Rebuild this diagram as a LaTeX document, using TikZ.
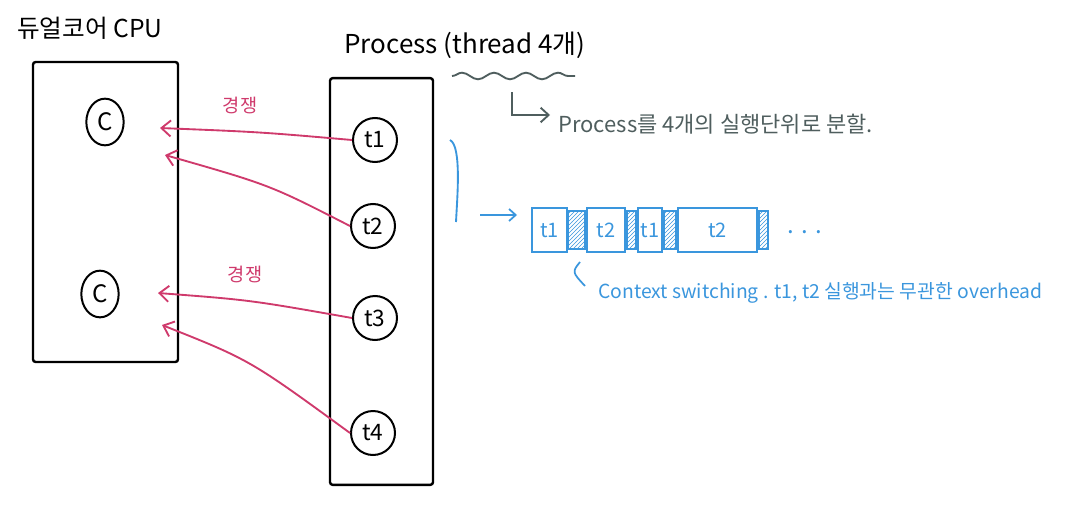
\documentclass[tikz,border=0pt]{standalone}
\usepackage{fontspec}
\setmainfont{Noto Sans CJK KR}
\usetikzlibrary{arrows.meta,patterns,decorations.pathmorphing,shapes.geometric}
\definecolor{hred}{HTML}{CF3A6C}
\definecolor{hblue}{HTML}{3A96DD}
\definecolor{hgray}{HTML}{4F5E5E}
\tikzset{
  frame/.style={draw=black, line width=1.8pt, rounded corners=2pt},
  thr/.style={draw=black, circle, line width=1.5pt, minimum size=33pt, inner sep=0pt, font=\fontsize{17}{17}\selectfont},
  core/.style={draw=black, ellipse, line width=1.5pt, minimum width=28pt, minimum height=35pt, inner sep=0pt, font=\fontsize{18}{18}\selectfont},
  rarrow/.style={draw=hred, line width=1.4pt, -{Straight Barb[length=7pt,width=12pt,line width=1.4pt]}},
  garrow/.style={draw=hgray, line width=1.4pt, -{Straight Barb[length=6pt,width=11pt,line width=1.4pt]}},
  barrow/.style={draw=hblue, line width=1.3pt, -{Straight Barb[length=5pt,width=9pt,line width=1.3pt]}},
  tbox/.style={draw=hblue, line width=1.4pt, minimum height=33pt, inner sep=0pt, text=hblue, font=\fontsize{15}{15}\selectfont},
  hbox/.style={draw=hblue, line width=1.4pt, minimum height=29pt, inner sep=0pt, pattern={north east lines}, pattern color=hblue},
  lbl/.style={inner sep=0pt, anchor=center}
}
\begin{document}
\begin{tikzpicture}[x=0.75pt,y=-0.75pt]
\useasboundingbox (0,0) rectangle (1066,510);
% titles
\node[lbl, font=\fontsize{18.5}{18.5}\selectfont] (cputitle) at (90,28) {듀얼코어 CPU};
\node[lbl, font=\fontsize{19.5}{19.5}\selectfont] (ptitle) at (465,45) {Process (thread 4개)};
% frames
\node[frame, minimum width=108.75pt, minimum height=225pt] (cpu) at (105.5,212) {};
\node[frame, minimum width=77.25pt, minimum height=305pt] (proc) at (381.5,281.5) {};
% cores
\node[core] (c1) at (105,122) {C};
\node[core] (c2) at (100,294) {C};
% threads
\node[thr] (t1) at (375,140) {t1};
\node[thr] (t2) at (373,226) {t2};
\node[thr] (t3) at (375,318) {t3};
\node[thr] (t4) at (373,433) {t4};
% red competition arrows
\coordinate (e1) at (160,128);
\coordinate (e2) at (165,155);
\coordinate (e3) at (158,293);
\coordinate (e4) at (162,325);
\draw[rarrow] (t1.west) .. controls (260,132) .. (e1);
\draw[rarrow] (t2.west) .. controls (270,185) .. (e2);
\draw[rarrow] (t3.west) .. controls (250,300) .. (e3);
\draw[rarrow] (t4.west) .. controls (250,360) .. (e4);
\node[lbl, text=hred, font=\fontsize{14}{14}\selectfont] (k1) at (240,106) {경쟁};
\node[lbl, text=hred, font=\fontsize{14}{14}\selectfont] (k2) at (245,274) {경쟁};
% gray annotation
\draw[hgray, line width=1.4pt, decorate, decoration={snake, amplitude=2.5pt, segment length=24pt}] (452,76) -- (575,76);
\coordinate (g0) at (512,92);
\coordinate (g1) at (512,115);
\coordinate (g2) at (550,115);
\node[lbl, anchor=west, text=hgray, font=\fontsize{16.5}{16.5}\selectfont] (gtext) at (558,124) {Process를 4개의 실행단위로 분할.};
\draw[garrow] (g0) -- (g1) -- (g2);
% blue brace and arrow
\draw[hblue, line width=1.4pt] (450,140) .. controls (462,146) and (457,200) .. (456,222);
\coordinate (b0) at (480,215);
\coordinate (b1) at (517,215);
\draw[barrow] (b0) -- (b1);
% timeline
\node[tbox, minimum width=26.25pt] (s1) at (549.5,230) {t1};
\node[hbox, minimum width=12.75pt] (h1) at (576.5,230) {};
\node[tbox, minimum width=28.5pt] (s2) at (606,230) {t2};
\node[hbox, minimum width=6.75pt] (h2) at (631.5,230) {};
\node[tbox, minimum width=18pt] (s3) at (650,230) {t1};
\node[hbox, minimum width=9pt] (h3) at (670,230) {};
\node[tbox, minimum width=59.25pt] (s4) at (717.5,230) {t2};
\node[hbox, minimum width=6.75pt] (h4) at (763.5,230) {};
\node[lbl, text=hblue, font=\fontsize{18}{18}\selectfont] (dots) at (805,232) {. . .};
% context switching note
\draw[hblue, line width=1.3pt] (580,262) .. controls (572,272) .. (585,286);
\node[lbl, anchor=west, text=hblue, font=\fontsize{14.5}{14.5}\selectfont] (ctext) at (598,293) {Context switching . t1, t2 실행과는 무관한 overhead};
\end{tikzpicture}
\end{document}
